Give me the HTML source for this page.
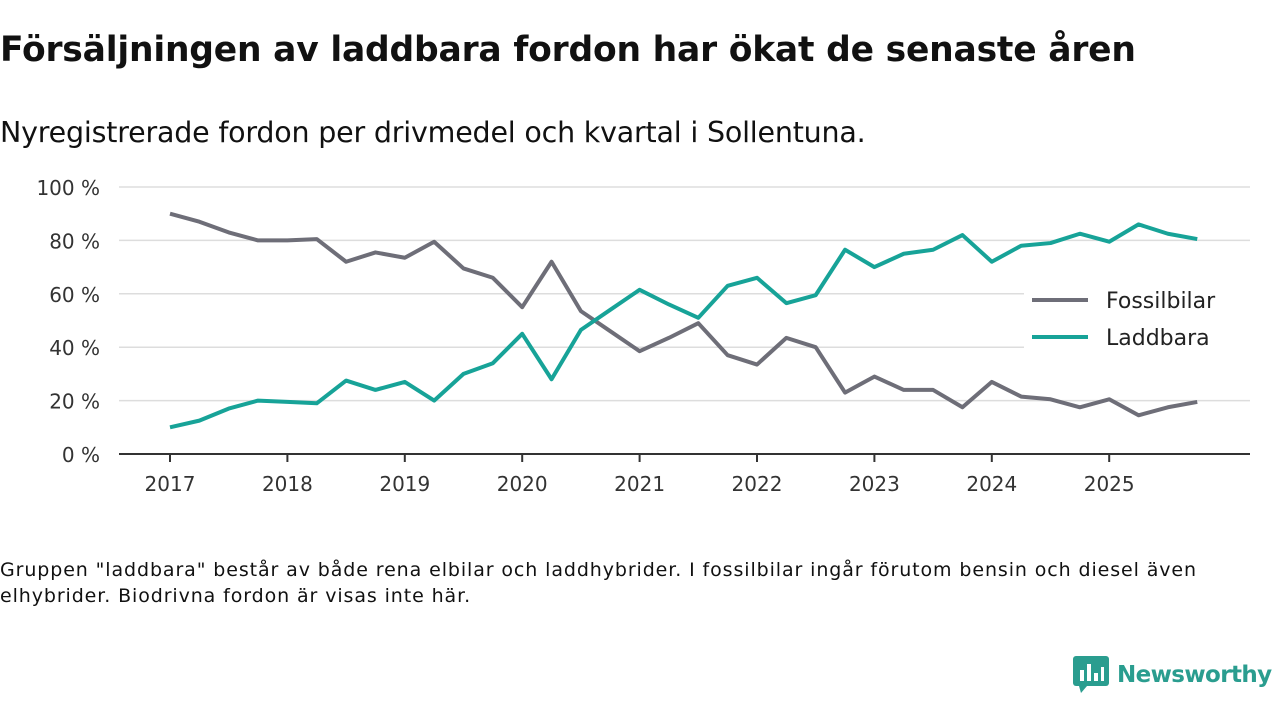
<!DOCTYPE html>
<html><head><meta charset="utf-8"><style>
body{margin:0;width:1280px;height:720px;background:#fff;font-family:"DejaVu Sans","Liberation Sans",sans-serif;overflow:hidden;position:relative;color:#111}
h1{position:absolute;left:0;top:30px;margin:0;font-size:34.5px;font-weight:bold;letter-spacing:-0.2px;white-space:nowrap}
.sub{position:absolute;left:0;top:116px;font-size:28.5px;letter-spacing:-0.2px;white-space:nowrap}
.note{position:absolute;left:0;top:557px;font-size:19px;letter-spacing:0.9px;line-height:26px;width:1270px;white-space:nowrap}
.logo{position:absolute;left:1073px;top:656px;display:flex;align-items:center;gap:8px;color:#2a9d8f;font-weight:bold;font-size:23px;letter-spacing:-0.6px;white-space:nowrap}
svg{position:absolute;left:0;top:0}
</style></head><body>
<h1>Försäljningen av laddbara fordon har ökat de senaste åren</h1>
<div class="sub">Nyregistrerade fordon per drivmedel och kvartal i Sollentuna.</div>
<svg id="chart" width="1280" height="720"></svg>
<div class="note">Gruppen "laddbara" består av både rena elbilar och laddhybrider. I fossilbilar ingår förutom bensin och diesel även<br>elhybrider. Biodrivna fordon är visas inte här.</div>
<div class="logo"><svg style="position:static" width="36" height="38" viewBox="0 0 36 38"><rect x="0" y="0" width="36" height="30" rx="3" fill="#2a9d8f"/><polygon points="6,30 14,30 8,37" fill="#2a9d8f"/><rect x="7" y="14" width="4" height="11" fill="#fff"/><rect x="14" y="8" width="4" height="17" fill="#fff"/><rect x="21" y="17" width="4" height="8" fill="#fff"/><rect x="28" y="11" width="3" height="14" fill="#fff"/></svg><span>Newsworthy</span></div>
<script>
const years=[2017,2018,2019,2020,2021,2022,2023,2024,2025];
const yTicks=[0,20,40,60,80,100];
const fossil=[90,87,83,80,80,80.5,72,75.5,73.5,79.5,69.5,66,55,72,53.5,46,38.5,43.5,49,37,33.5,43.5,40,23,29,24,24,17.5,27,21.5,20.5,17.5,20.5,14.5,17.5,19.5];
const laddbara=[10,12.5,17,20,19.5,19,27.5,24,27,20,30,34,45,28,46.5,54,61.5,56,51,63,66,56.5,59.5,76.5,70,75,76.5,82,72,78,79,82.5,79.5,86,82.5,80.5];
const svg=document.getElementById('chart');const NS='http://www.w3.org/2000/svg';
const x=t=>170+(t-2017)*117.4; const y=v=>454-v*2.67;
function el(tag,a){const e=document.createElementNS(NS,tag);for(const k in a)e.setAttribute(k,a[k]);svg.appendChild(e);return e;}
yTicks.forEach(v=>{
 if(v>0){const g=el('line',{x1:119,x2:1250,y1:y(v),y2:y(v),stroke:'#ddd','stroke-width':1.5});
 
 }
 const t=el('text',{x:100,y:y(v)+8,'text-anchor':'end','font-size':20,fill:'#333','font-family':'DejaVu Sans, Liberation Sans, sans-serif'});t.textContent=v+' %';
 
 
});
const ax=el('line',{x1:119,x2:1250,y1:454,y2:454,stroke:'#333','stroke-width':2});


years.forEach(yr=>{
 el('line',{x1:x(yr),x2:x(yr),y1:454,y2:462,stroke:'#333','stroke-width':2});
 const t=el('text',{x:x(yr),y:491,'text-anchor':'middle','font-size':20,fill:'#333','font-family':'DejaVu Sans, Liberation Sans, sans-serif'});t.textContent=yr;
 
 
});
function line(data,color,name){
 const p=el('polyline',{points:data.map((v,i)=>x(2017+i/4)+','+y(v)).join(' '),fill:'none',stroke:color,'stroke-width':4,'stroke-linejoin':'round'});
 
 
}
line(fossil,'#6e6e78','fossilbilar-line');
line(laddbara,'#17a398','laddbara-line');
el('rect',{x:1024,y:282,width:226,height:68,fill:'#fff'});
[['Fossilbilar','#6e6e78',300],['Laddbara','#17a398',337]].forEach(([n,c,yy])=>{
 el('line',{x1:1032,x2:1088,y1:yy,y2:yy,stroke:c,'stroke-width':4});
 const t=el('text',{x:1106,y:yy+8,'font-size':22,fill:'#222','font-family':'DejaVu Sans, Liberation Sans, sans-serif'});t.textContent=n;
 
 
});
</script>
</body></html>
